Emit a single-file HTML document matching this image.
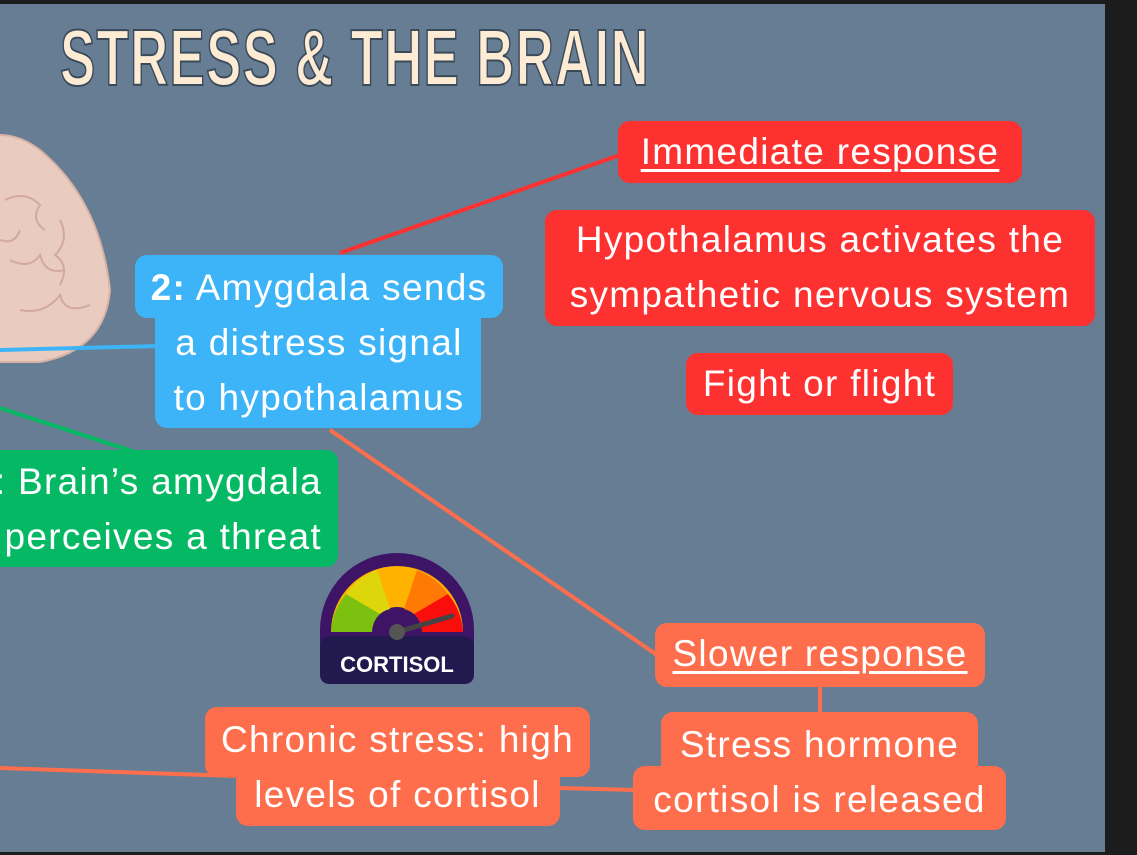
<!DOCTYPE html>
<html><head><meta charset="utf-8"><style>
body{margin:0;width:1137px;height:855px;background:#1c1c1c;overflow:hidden;font-family:"Liberation Sans",sans-serif;}
#c{position:absolute;left:0;top:4px;width:1105px;height:848px;background:#667d93;overflow:hidden}
.b{position:absolute;color:#fff;font-size:37px;letter-spacing:1.3px;text-align:center;border-radius:12px;line-height:55px;white-space:nowrap}
.r{background:#fe3131}.o{background:#ff6e4c}.bl{background:#3db3f8}.g{background:#05b964}
u{text-decoration-thickness:3px;text-underline-offset:5px}
#t{position:absolute;left:60px;top:8px;font-family:"Liberation Sans",sans-serif;font-weight:bold;font-size:80px;color:#fdebd4;-webkit-text-stroke:2px #3a4a5a;letter-spacing:2px;transform:scaleX(0.66);transform-origin:left;white-space:nowrap}
</style></head><body><div id="c">
<svg width="1105" height="848" style="position:absolute;left:0;top:0">
<g transform="translate(0,-4)">
<path d="M-40 150 Q0 120 40 150 Q100 200 110 290 Q105 350 40 362 L-40 362Z" fill="#e9cbbf" stroke="#d8b2a4" stroke-width="2"/>
<g fill="none" stroke="#d3a99c" stroke-width="2">
<path d="M5 200 q20 -10 35 5 q-10 15 5 25"/><path d="M60 220 q10 20 -5 35 q15 10 5 30"/><path d="M10 260 q20 10 30 -5 q5 20 25 15"/><path d="M20 310 q25 5 40 -15 q5 20 30 10"/><path d="M0 240 q15 5 20 -10"/>
</g>
<line x1="340" y1="253" x2="620" y2="155" stroke="#fe3131" stroke-width="4"/>
<line x1="0" y1="350" x2="160" y2="346" stroke="#3db3f8" stroke-width="4"/>
<line x1="0" y1="408" x2="135" y2="452" stroke="#05b964" stroke-width="4"/>
<line x1="330" y1="430" x2="657" y2="655" stroke="#ff6e4c" stroke-width="4"/>
<line x1="0" y1="768" x2="235" y2="776" stroke="#ff6e4c" stroke-width="4"/>
<line x1="558" y1="788" x2="636" y2="790" stroke="#ff6e4c" stroke-width="4"/>
<line x1="820" y1="686" x2="820" y2="714" stroke="#ff6e4c" stroke-width="4"/>
<path d="M320 630 A77 77 0 0 1 474 630 L474 674 Q474 684 464 684 L330 684 Q320 684 320 674Z" fill="#3d1466"/>
<rect x="320" y="636" width="154" height="48" rx="10" fill="#221a4e"/>
<path d="M331 632 A66 66 0 0 1 463 632 L422 632 A25 25 0 0 0 372 632Z" fill="#ffb300"/>
<path d="M331 632 A66 66 0 0 1 346 594 L380 614 A25 25 0 0 0 372 632Z" fill="#7cc110"/>
<path d="M346 594 A66 66 0 0 1 377 570 L390 609 A25 25 0 0 0 380 614Z" fill="#dcd60a"/>
<path d="M417 570 A66 66 0 0 1 448 594 L414 614 A25 25 0 0 0 404 609Z" fill="#ff7a05"/>
<path d="M448 594 A66 66 0 0 1 463 632 L422 632 A25 25 0 0 0 414 614Z" fill="#f90d0d"/>
<line x1="397" y1="632" x2="452" y2="616" stroke="#444" stroke-width="5" stroke-linecap="round"/>
<circle cx="397" cy="632" r="8" fill="#555"/>
<text x="397" y="672" text-anchor="middle" font-family="Liberation Sans" font-weight="bold" font-size="22" fill="#fff">CORTISOL</text>
</g></svg>
<div id="t">STRESS &amp; THE BRAIN</div>
<div class="b r" style="left:618px;top:117px;width:404px;height:62px;line-height:62px"><u>Immediate response</u></div>
<div class="b r" style="left:545px;top:206px;width:550px;height:116px;padding-top:2px;box-sizing:border-box">Hypothalamus activates the<br>sympathetic nervous system</div>
<div class="b r" style="left:686px;top:349px;width:267px;height:62px;line-height:62px">Fight or flight</div>
<div class="b bl" style="left:135px;top:251px;width:368px;height:63px"></div>
<div class="b bl" style="left:155px;top:300px;width:326px;height:124px"></div>
<div class="b" style="left:135px;top:256px;width:368px;line-height:55px"><b>2:</b> Amygdala sends<br>a distress signal<br>to hypothalamus</div>
<div class="b g" style="left:-40px;top:446px;width:378px;height:117px;line-height:55px;text-align:right;padding-right:16px;box-sizing:border-box;padding-top:4px">: Brain’s amygdala<br>perceives a threat</div>
<div class="b o" style="left:655px;top:619px;width:330px;height:64px;line-height:62px"><u>Slower response</u></div>
<div class="b o" style="left:661px;top:708px;width:317px;height:70px"></div>
<div class="b o" style="left:633px;top:762px;width:373px;height:64px"></div>
<div class="b" style="left:633px;top:713px;width:373px">Stress hormone<br>cortisol is released</div>
<div class="b o" style="left:205px;top:703px;width:385px;height:70px"></div>
<div class="b o" style="left:236px;top:760px;width:324px;height:62px"></div>
<div class="b" style="left:205px;top:708px;width:385px">Chronic stress: high<br>levels of cortisol</div>
</div></body></html>
